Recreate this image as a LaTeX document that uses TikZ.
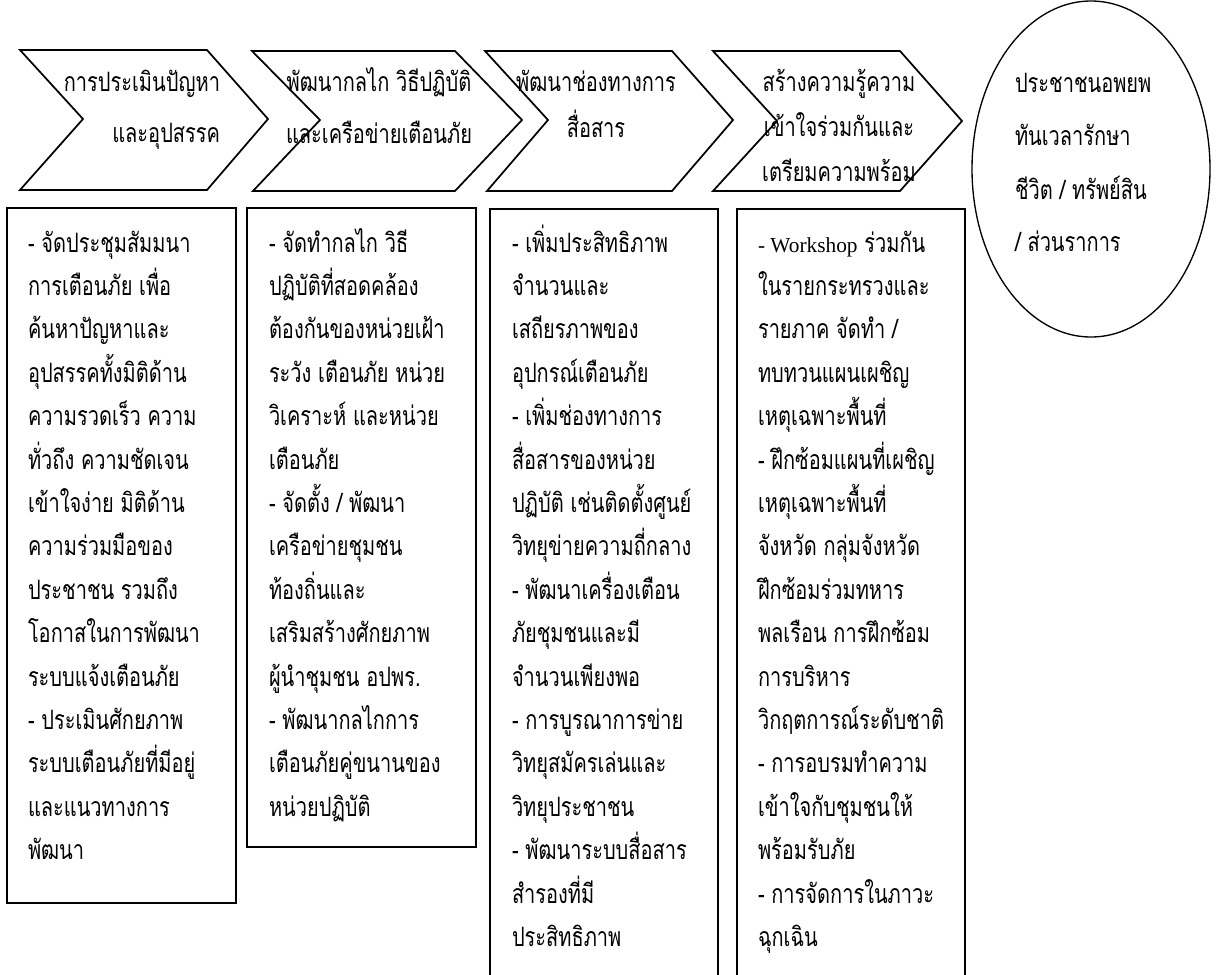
\documentclass[tikz,border=0pt]{standalone}
\usepackage{fontspec}
\newfontfamily\thai[Script=Thai,FakeStretch=0.75]{Loma}
\newfontfamily\lat{Liberation Serif}
% stacked lines; the node's base is the first line's baseline
\newcommand\lstack[1]{\vtop{\halign{##\hfil\cr#1\crcr}}}
\newcommand\cstack[1]{\vtop{\halign{\hfil##\hfil\cr#1\crcr}}}
\newcommand\rstack[1]{\vtop{\halign{\hfil##\cr#1\crcr}}}
\tikzset{
  chevron/.style={draw=black,line width=1.3pt,line join=miter},
  panel/.style={draw=black,line width=1.5pt},
  goal/.style={draw=black,line width=1pt},
  txt/.style={inner sep=0pt,outer sep=0pt},
  body/.style={txt,anchor=base west,font=\thai\fontsize{20pt}{32.55pt}\selectfont},
}
\begin{document}
\begin{tikzpicture}[x=0.75pt,y=-0.75pt]
\clip (0,0) rectangle (1216,974);
\fill[white] (0,0) rectangle (1216,974);

% process chevrons
\draw[chevron] (20,50) -- (207,50) -- (268,119) -- (207,190) -- (20,190) -- (83,119) -- cycle;
\draw[chevron] (252,51) -- (455,51) -- (522,120) -- (455,191) -- (253,191) -- (320,120) -- cycle;
\draw[chevron] (485,51) -- (672,51) -- (733,120) -- (672,191) -- (487,191) -- (548,120) -- cycle;
\draw[chevron] (713,51) -- (900,51) -- (962,121) -- (900,191) -- (713,191) -- (777,121) -- cycle;

% outcome
\draw[goal] (1091,169) ellipse [x radius=119, y radius=168];

% detail panels
\draw[panel] (7,208) rectangle (236,903);
\draw[panel] (247,208) rectangle (476,847);
\draw[panel] (490,209) rectangle (718,990);
\draw[panel] (737,209) rectangle (965,990);

% chevron captions
\node[txt,anchor=base east,font=\thai\fontsize{20pt}{38.25pt}\selectfont] (c1) at (220,91)
  {\rstack{การประเมินปัญหา\cr และอุปสรรค}};
\node[txt,anchor=base,font=\thai\fontsize{20pt}{38.25pt}\selectfont] (c2) at (379,92)
  {\cstack{พัฒนากลไก วิธีปฏิบัติ\cr และเครือข่ายเตือนภัย}};
\node[txt,anchor=base,font=\thai\fontsize{20pt}{33.75pt}\selectfont] (c3) at (596,92)
  {\cstack{พัฒนาช่องทางการ\cr สื่อสาร}};
\node[txt,anchor=base,font=\thai\fontsize{20pt}{33.4pt}\selectfont] (c4) at (839,92)
  {\cstack{สร้างความรู้ความ\cr เข้าใจร่วมกันและ\cr เตรียมความพร้อม}};

% outcome caption
\node[txt,anchor=base west,font=\thai\fontsize{20pt}{39.75pt}\selectfont] (g) at (1015,93)
  {\lstack{ประชาชนอพยพ\cr ทันเวลารักษา\cr ชีวิต / ทรัพย์สิน\cr / ส่วนราการ}};

% panel texts
\node[body] (p1) at (28,252) {\lstack{%
- จัดประชุมสัมมนา\cr
การเตือนภัย เพื่อ\cr
ค้นหาปัญหาและ\cr
อุปสรรคทั้งมิติด้าน\cr
ความรวดเร็ว ความ\cr
ทั่วถึง ความชัดเจน\cr
เข้าใจง่าย มิติด้าน\cr
ความร่วมมือของ\cr
ประชาชน รวมถึง\cr
โอกาสในการพัฒนา\cr
ระบบแจ้งเตือนภัย\cr
- ประเมินศักยภาพ\cr
ระบบเตือนภัยที่มีอยู่\cr
และแนวทางการ\cr
พัฒนา}};

\node[body] (p2) at (269,252) {\lstack{%
- จัดทำกลไก วิธี\cr
ปฏิบัติที่สอดคล้อง\cr
ต้องกันของหน่วยเฝ้า\cr
ระวัง เตือนภัย หน่วย\cr
วิเคราะห์ และหน่วย\cr
เตือนภัย\cr
- จัดตั้ง / พัฒนา\cr
เครือข่ายชุมชน\cr
ท้องถิ่นและ\cr
เสริมสร้างศักยภาพ\cr
ผู้นำชุมชน อปพร.\cr
- พัฒนากลไกการ\cr
เตือนภัยคู่ขนานของ\cr
หน่วยปฏิบัติ}};

\node[body] (p3) at (512,252) {\lstack{%
- เพิ่มประสิทธิภาพ\cr
จำนวนและ\cr
เสถียรภาพของ\cr
อุปกรณ์เตือนภัย\cr
- เพิ่มช่องทางการ\cr
สื่อสารของหน่วย\cr
ปฏิบัติ เช่นติดตั้งศูนย์\cr
วิทยุข่ายความถี่กลาง\cr
- พัฒนาเครื่องเตือน\cr
ภัยชุมชนและมี\cr
จำนวนเพียงพอ\cr
- การบูรณาการข่าย\cr
วิทยุสมัครเล่นและ\cr
วิทยุประชาชน\cr
- พัฒนาระบบสื่อสาร\cr
สำรองที่มี\cr
ประสิทธิภาพ}};

\node[body] (p4) at (758,252) {\lstack{%
{\lat\fontsize{16pt}{16pt}\selectfont - Workshop} ร่วมกัน\cr
ในรายกระทรวงและ\cr
รายภาค จัดทำ /\cr
ทบทวนแผนเผชิญ\cr
เหตุเฉพาะพื้นที่\cr
- ฝึกซ้อมแผนที่เผชิญ\cr
เหตุเฉพาะพื้นที่\cr
จังหวัด กลุ่มจังหวัด\cr
ฝึกซ้อมร่วมทหาร\cr
พลเรือน การฝึกซ้อม\cr
การบริหาร\cr
วิกฤตการณ์ระดับชาติ\cr
- การอบรมทำความ\cr
เข้าใจกับชุมชนให้\cr
พร้อมรับภัย\cr
- การจัดการในภาวะ\cr
ฉุกเฉิน}};
\end{tikzpicture}
\end{document}
